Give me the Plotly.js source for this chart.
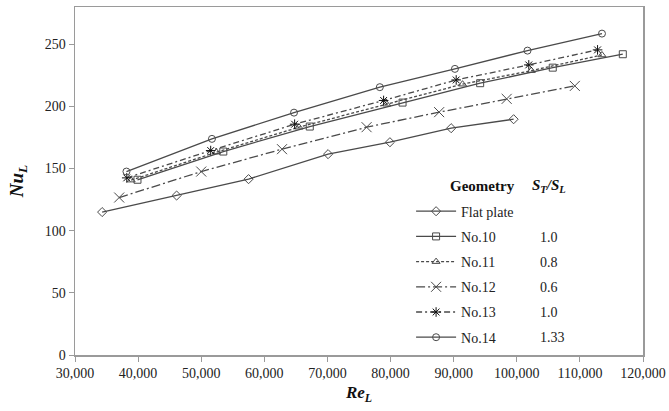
<!DOCTYPE html>
<html>
<head>
<meta charset="utf-8">
<script src="https://cdn.plot.ly/plotly-3.0.1.min.js"></script>
<style>html,body{margin:0;padding:0;background:#fff;}#chart{width:669px;height:411px;}</style>
</head>
<body>
<div id="chart"></div>
<script>
// ---- data ----
var seriesNames = ['Flat plate', 'No.10', 'No.11', 'No.12', 'No.13', 'No.14'];
var ratios = ['', '1.0', '0.8', '0.6', '1.0', '1.33'];

var reFlat = [34300, 46100, 57500, 70100, 79900, 89600, 99500];
var nuFlat = [115, 128.3, 141.5, 161.6, 171.2, 182.5, 189.7];

var re10 = [39900, 53500, 67200, 81900, 94200, 105700, 116800];
var nu10 = [141, 163.7, 183.8, 203.1, 218.7, 231.2, 242];

var re11 = [38900, 52400, 65500, 79400, 91400, 102300, 113500];
var nu11 = [140.7, 163.2, 183.3, 201.8, 217.9, 228.8, 241.4];

var re12 = [37000, 50000, 62800, 76200, 87700, 98400, 109200];
var nu12 = [126.7, 147.6, 165.6, 183.3, 195.4, 206.1, 216.5];

var re13 = [38200, 51500, 64800, 78900, 90400, 101900, 112800];
var nu13 = [142.5, 164.5, 185.7, 204.8, 221.3, 233.4, 245.5];

var re14 = [38150, 51700, 64700, 78300, 90200, 101700, 113500];
var nu14 = [147.6, 173.9, 195, 215.5, 230.2, 244.9, 258.6];

var xTickVals = [30000, 40000, 50000, 60000, 70000, 80000, 90000, 100000, 110000, 120000];
var yTickVals = [0, 50, 100, 150, 200, 250];

// ---- styles ----
var lc = '#4a4a4a';
function tr(x, y, i, dash, sym, msize, mcol) {
  return {
    x: x, y: y, name: seriesNames[i], type: 'scatter', mode: 'lines+markers',
    legendgroup: 'g' + i,
    line: {color: lc, width: 1.3, dash: dash},
    marker: {symbol: sym, size: msize, color: mcol || lc, line: {color: mcol || lc, width: 1}}
  };
}
var data = [
  tr(reFlat, nuFlat, 0, 'solid', 'diamond-open', 7),
  tr(re10, nu10, 1, 'solid', 'square-open', 7),
  tr(re11, nu11, 2, '3px,2px', 'triangle-up-open', 7),
  tr(re12, nu12, 3, '9px,3px,2px,3px', 'x-thin-open', 10),
  tr(re13, nu13, 4, '6px,3px,2px,3px', 'asterisk-open', 8, '#111'),
  tr(re14, nu14, 5, 'solid', 'circle-open', 7)
];

var font = 'Liberation Serif, Times New Roman, serif';
var rowY = [0.4106, 0.3376, 0.2670, 0.1941, 0.1235, 0.0505];
var ann = [];
ann.push({xref: 'paper', yref: 'paper', x: 0.717, y: 0.4869, xanchor: 'center', yanchor: 'middle', showarrow: false,
  text: '<b>Geometry</b>', font: {family: font, size: 15, color: '#111'}});
ann.push({xref: 'paper', yref: 'paper', x: 0.8345, y: 0.4869, xanchor: 'center', yanchor: 'middle', showarrow: false,
  text: '<b><i>S<sub>T</sub>/S<sub>L</sub></i></b>', font: {family: font, size: 15, color: '#111'}});
for (var i = 0; i < ratios.length; i++) {
  if (!ratios[i]) continue;
  ann.push({xref: 'paper', yref: 'paper', x: 0.815, y: rowY[i], xanchor: 'left', yanchor: 'middle', showarrow: false,
    text: ratios[i], font: {family: font, size: 14, color: '#222'}});
}

var layout = {
  width: 669, height: 411,
  margin: {l: 75, r: 26, t: 7, b: 56},
  paper_bgcolor: '#fff', plot_bgcolor: '#fff',
  font: {family: font, size: 14, color: '#222'},
  showlegend: true,
  legend: {x: 0.5917, y: 0.458, xanchor: 'left', yanchor: 'top', bgcolor: 'rgba(0,0,0,0)',
    traceorder: 'grouped', tracegroupgap: 4, itemwidth: 40, font: {family: font, size: 14, color: '#222'}},
  xaxis: {
    range: [30000, 120000], tickvals: xTickVals, tickformat: ',d',
    showgrid: false, zeroline: false, showline: true, linecolor: '#9a9a9a', linewidth: 1.5, mirror: true,
    ticks: 'outside', ticklen: 5, tickcolor: '#9a9a9a', tickfont: {family: font, size: 14, color: '#222'},
    title: {text: '<b><i>Re<sub>L</sub></i></b>', font: {family: font, size: 17, color: '#111'}, standoff: 6}
  },
  yaxis: {
    range: [0, 280], tickvals: yTickVals,
    showgrid: false, zeroline: false, showline: true, linecolor: '#9a9a9a', linewidth: 1.5, mirror: true,
    ticks: 'outside', ticklen: 5, tickcolor: '#9a9a9a', tickfont: {family: font, size: 14, color: '#222'},
    title: {text: '<b><i>Nu<sub>L</sub></i></b>', font: {family: font, size: 19, color: '#111'}, standoff: 16}
  },
  annotations: ann
};

Plotly.newPlot('chart', data, layout, {displayModeBar: false, staticPlot: true});
</script>
</body>
</html>
